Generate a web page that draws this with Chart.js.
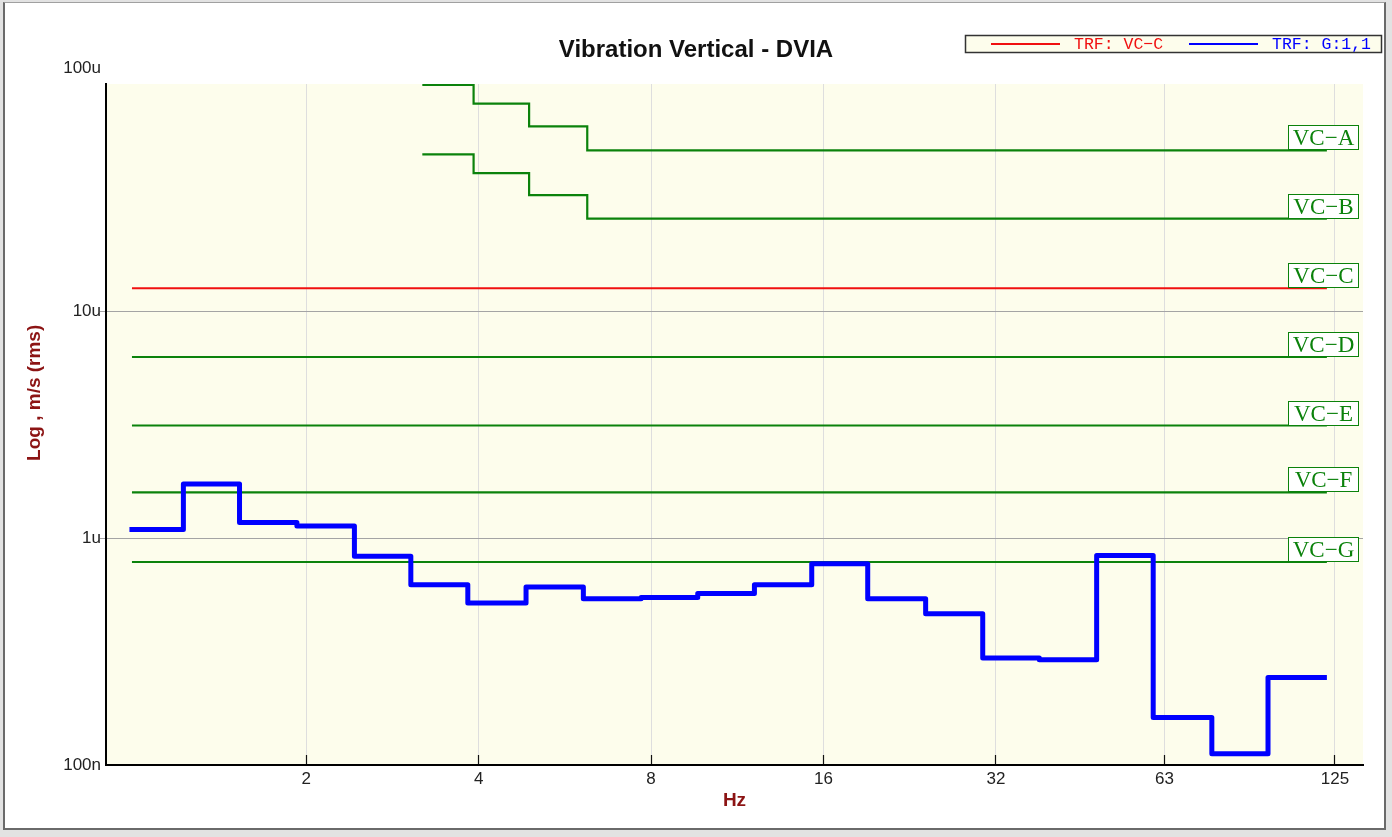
<!DOCTYPE html>
<html><head><meta charset="utf-8">
<script src="https://cdn.jsdelivr.net/npm/chart.js@4.4.1/dist/chart.umd.min.js"></script>
<style>
html,body{margin:0;padding:0;background:#e2e2e2;width:1392px;height:837px;overflow:hidden}
#frame{position:absolute;left:3px;top:2px;width:1379px;height:825px;background:#fff;border-left:2px solid #6a6a6a;border-top:1px solid #a0a0a0;border-right:2px solid #6a6a6a;border-bottom:2px solid #6a6a6a}
#c{position:absolute;left:0;top:0;width:1392px;height:837px}
</style></head><body>
<div id="frame"></div>
<canvas id="c" width="1392" height="837"></canvas>
<script>
// ---- data (velocity in µm/s, frequency in Hz) ----
const measuredFreqs = [0.983, 1.221, 1.53, 1.927, 2.428, 3.046, 3.83, 4.84, 6.094, 7.685, 9.65, 12.12, 15.26, 19.11, 24.12, 30.34, 38.09, 47.96, 60.2, 76.2, 95.5, 121.0];
const measuredValues = [1.09, 1.73, 1.17, 1.13, 0.83, 0.623, 0.517, 0.608, 0.540, 0.547, 0.570, 0.623, 0.77, 0.540, 0.464, 0.296, 0.291, 0.838, 0.162, 0.112, 0.243, 0.243];

const vcStepFreqs = [3.19, 3.92, 4.9, 6.19, 121.0];
const vcAValues = [99, 82, 65, 51, 51];
const vcBValues = [49, 40.5, 32.4, 25.5, 25.5];

const vcFlatFreqs = [0.993, 121.0];
const vcCValues = [12.6, 12.6];
const vcDValues = [6.27, 6.27];
const vcEValues = [3.13, 3.13];
const vcFValues = [1.59, 1.59];
const vcGValues = [0.784, 0.784];

const criteriaNames = ['VC\u2212A', 'VC\u2212B', 'VC\u2212C', 'VC\u2212D', 'VC\u2212E', 'VC\u2212F', 'VC\u2212G'];
const legendNames = ['TRF: VC\u2212C', 'TRF: G:1,1'];

const xTickValues = [2, 4, 8, 16, 32, 63, 125];
const xTickLabels = ['2', '4', '8', '16', '32', '63', '125'];
const yTickValues = [0.1, 1, 10, 100];
const yTickLabels = ['100n', '1u', '10u', '100u'];

// ---- build ----
const GREEN = '#0b820b', RED = '#f01010', BLUE = '#0000ff', DARKRED = '#8c1414';
const pts = (xs, ys) => xs.map((x, i) => ({x: x, y: ys[i]}));

const datasets = [
  {label: legendNames[1], legendIdx: 1, data: pts(measuredFreqs, measuredValues), borderColor: BLUE, borderWidth: 5, borderJoinStyle: 'round'},
  {label: criteriaNames[0], tag: criteriaNames[0], data: pts(vcStepFreqs, vcAValues), borderColor: GREEN, borderWidth: 2.2},
  {label: criteriaNames[1], tag: criteriaNames[1], data: pts(vcStepFreqs, vcBValues), borderColor: GREEN, borderWidth: 2.2},
  {label: legendNames[0], legendIdx: 0, tag: criteriaNames[2], data: pts(vcFlatFreqs, vcCValues), borderColor: RED, borderWidth: 2},
  {label: criteriaNames[3], tag: criteriaNames[3], data: pts(vcFlatFreqs, vcDValues), borderColor: GREEN, borderWidth: 2.2},
  {label: criteriaNames[4], tag: criteriaNames[4], data: pts(vcFlatFreqs, vcEValues), borderColor: GREEN, borderWidth: 2.2},
  {label: criteriaNames[5], tag: criteriaNames[5], data: pts(vcFlatFreqs, vcFValues), borderColor: GREEN, borderWidth: 2.2},
  {label: criteriaNames[6], tag: criteriaNames[6], data: pts(vcFlatFreqs, vcGValues), borderColor: GREEN, borderWidth: 2.2}
].map(d => Object.assign({stepped: 'before', pointRadius: 0, fill: false, tension: 0}, d));

const plotBg = {
  id: 'plotBg',
  beforeDraw(chart) {
    const {ctx, chartArea: a} = chart;
    ctx.save(); ctx.fillStyle = '#fdfdec';
    ctx.fillRect(a.left, a.top, a.right - a.left, a.bottom - a.top);
    ctx.restore();
  }
};

const criteriaTags = {
  id: 'criteriaTags',
  afterDatasetsDraw(chart) {
    const {ctx, chartArea: a} = chart;
    const ys = chart.scales.y;
    ctx.save();
    chart.data.datasets.forEach(ds => {
      if (!ds.tag) return;
      const last = ds.data[ds.data.length - 1];
      const yb = Math.round(ys.getPixelForValue(last.y));
      const w = 71, h = 25, right = a.right - 4;
      ctx.fillStyle = '#ffffff';
      ctx.fillRect(right - w, yb - h, w, h);
      ctx.strokeStyle = GREEN; ctx.lineWidth = 1;
      ctx.strokeRect(right - w + 0.5, yb - h + 0.5, w - 1, h - 1);
      ctx.fillStyle = GREEN;
      ctx.font = '23px "Liberation Serif", "Times New Roman", serif';
      ctx.textAlign = 'center'; ctx.textBaseline = 'middle';
      ctx.fillText(ds.tag, right - w / 2, yb - h / 2 + 1);
    });
    ctx.restore();
  }
};

const boxLegend = {
  id: 'boxLegend',
  afterDraw(chart) {
    const ctx = chart.ctx;
    ctx.save();
    const x0 = 965, y0 = 35, w = 416, h = 17;
    ctx.fillStyle = '#fdfdec'; ctx.fillRect(x0, y0, w, h);
    ctx.strokeStyle = '#333'; ctx.lineWidth = 1.5; ctx.strokeRect(x0 + 0.5, y0 + 0.5, w, h);
    const starts = [991, 1189];
    const items = chart.data.datasets.filter(d => d.legendIdx !== undefined).sort((p, q) => p.legendIdx - q.legendIdx);
    ctx.font = '16.5px "Liberation Mono", "Courier New", monospace';
    ctx.textBaseline = 'middle'; ctx.textAlign = 'left';
    items.forEach((d, i) => {
      const lx = starts[i], cy = y0 + 9;
      ctx.strokeStyle = d.borderColor; ctx.lineWidth = 2.2;
      ctx.beginPath(); ctx.moveTo(lx, cy); ctx.lineTo(lx + 69, cy); ctx.stroke();
      ctx.fillStyle = d.borderColor;
      ctx.fillText(d.label, lx + 83, cy + 1);
    });
    ctx.restore();
  }
};

Chart.defaults.font.family = '"Liberation Sans", Arial, sans-serif';

new Chart(document.getElementById('c'), {
  type: 'line',
  data: {datasets: datasets},
  plugins: [plotBg, criteriaTags, boxLegend],
  options: {
    responsive: false,
    animation: false,
    layout: {padding: {top: 0, right: 0, bottom: 0, left: 0}},
    plugins: {
      legend: {display: false},
      tooltip: {enabled: false},
      title: {
        display: true, text: 'Vibration Vertical - DVIA', color: '#111',
        font: {size: 24, weight: 'bold', lineHeight: 1.2},
        padding: {top: 35.6, bottom: 19.6}
      }
    },
    scales: {
      x: {
        type: 'logarithmic', min: 0.8946, max: 139.9,
        afterBuildTicks: s => { s.ticks = xTickValues.map(v => ({value: v})); },
        afterFit: s => { s.height = 72; },
        ticks: {
          autoSkip: false, maxRotation: 0, padding: 14, color: '#222',
          font: {size: 17},
          callback: v => { const i = xTickValues.indexOf(v); return i >= 0 ? xTickLabels[i] : ''; }
        },
        grid: {color: '#dedede', lineWidth: 1, tickLength: -10, tickColor: '#111', tickWidth: 1.2},
        border: {display: true, color: '#000', width: 2},
        title: {display: true, text: 'Hz', color: DARKRED, font: {size: 19, weight: 'bold', lineHeight: 1.2}, padding: {top: 0, bottom: 24.6}}
      },
      y: {
        type: 'logarithmic', min: 0.1, max: 100,
        afterBuildTicks: s => { s.ticks = yTickValues.map(v => ({value: v})); },
        afterFit: s => { s.width = 106; },
        ticks: {
          autoSkip: false, padding: -1, color: '#222',
          font: {size: 17, lineHeight: 1.8},
          callback: v => {
            const i = yTickValues.indexOf(v);
            if (i < 0) return '';
            return i === yTickValues.length - 1 ? [yTickLabels[i], ''] : yTickLabels[i];
          }
        },
        grid: {
          tickLength: 6,
          color: c => (c.tick && (c.tick.value === 1 || c.tick.value === 10)) ? '#a4a4a4' : 'rgba(0,0,0,0)',
          tickColor: c => (c.tick && (c.tick.value === 1 || c.tick.value === 10)) ? '#a4a4a4' : 'rgba(0,0,0,0)'
        },
        border: {display: true, color: '#000', width: 2},
        title: {display: true, text: '            Log , m/s (rms)', color: DARKRED, font: {size: 19, weight: 'bold', lineHeight: 1.2}, padding: {top: 23.6, bottom: 0}}
      },
      yRight: {
        type: 'linear', position: 'right', display: true,
        afterFit: s => { s.width = 29; },
        ticks: {display: false},
        grid: {display: false, drawTicks: false},
        border: {display: false}
      }
    }
  }
});
</script>
</body></html>
